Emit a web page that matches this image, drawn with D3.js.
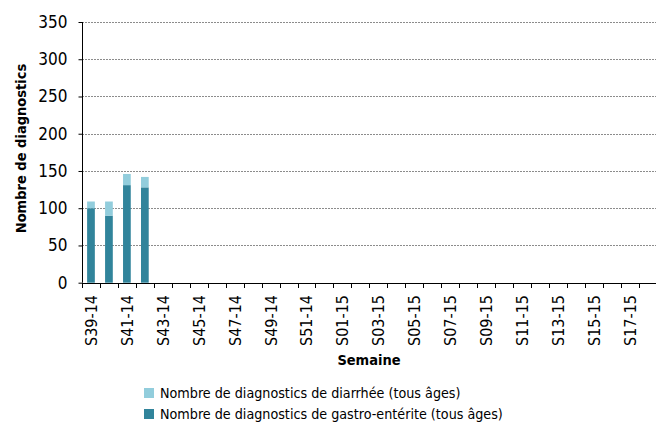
<!DOCTYPE html>
<html>
<head>
<meta charset="utf-8">
<title>Diagnostics par semaine</title>
<style>
body { margin: 0; background: #fff; }
svg text { font-family: "Liberation Sans Narrow", "DejaVu Sans Condensed", sans-serif; fill: #000; }
</style>
</head>
<body>
<script src="https://cdn.jsdelivr.net/npm/d3@7/dist/d3.min.js"></script>
<script>

var weeks = ["S39-14", "S40-14", "S41-14", "S42-14", "S43-14", "S44-14", "S45-14", "S46-14",
             "S47-14", "S48-14", "S49-14", "S50-14", "S51-14", "S52-14",
             "S01-15", "S02-15", "S03-15", "S04-15", "S05-15", "S06-15", "S07-15", "S08-15",
             "S09-15", "S10-15", "S11-15", "S12-15", "S13-15", "S14-15", "S15-15", "S16-15",
             "S17-15", "S18-15"];
// gastro-entérite (dark, bottom) then diarrhée on top; only the first 4 weeks have data
var gastro = [100, 90, 131, 128];
var diarrhee = [9, 19, 15, 14];
var yTicks = [0, 50, 100, 150, 200, 250, 300, 350];
var legendLabels = ["Nombre de diagnostics de diarrhée (tous âges)",
                    "Nombre de diagnostics de gastro-entérite (tous âges)"];
var colors = ["#92CDDC", "#31849B"];

var w = 656, h = 425;
var plotLeft = 82, plotTop = 22, plotBottom = 282.7, plotRight = 656.7;

var svg = d3.select("body").append("svg")
    .attr("width", w)
    .attr("height", h);

var x = d3.scaleBand()
    .domain(weeks)
    .range([plotLeft, plotRight])
    .paddingInner(0.57)
    .paddingOuter(0.285);

var xTickScale = d3.scaleLinear()
    .domain([0, weeks.length])
    .range([plotLeft, plotRight]);

var y = d3.scaleLinear()
    .domain([0, 350])
    .range([plotBottom, plotTop]);

// gridlines
svg.selectAll("line.grid")
    .data(yTicks.slice(1))
    .enter()
    .append("line")
    .attr("class", "grid")
    .attr("x1", plotLeft)
    .attr("x2", w)
    .attr("y1", function(d) { return Math.round(y(d)) + 0.5; })
    .attr("y2", function(d) { return Math.round(y(d)) + 0.5; })
    .attr("stroke", "#8c8c8c")
    .attr("stroke-dasharray", "2,1")
    .attr("stroke-width", 1);

// bars
var rows = gastro.map(function(g, i) {
    return { week: weeks[i], gastro: g, diarrhee: diarrhee[i] };
});

svg.selectAll("rect.g")
    .data(rows)
    .enter()
    .append("rect")
    .attr("class", "g")
    .attr("x", function(d) { return x(d.week); })
    .attr("width", x.bandwidth())
    .attr("y", function(d) { return y(d.gastro); })
    .attr("height", function(d) { return y(0) - y(d.gastro); })
    .attr("fill", colors[1]);

svg.selectAll("rect.d")
    .data(rows)
    .enter()
    .append("rect")
    .attr("class", "d")
    .attr("x", function(d) { return x(d.week); })
    .attr("width", x.bandwidth())
    .attr("y", function(d) { return y(d.gastro + d.diarrhee); })
    .attr("height", function(d) { return y(d.gastro) - y(d.gastro + d.diarrhee); })
    .attr("fill", colors[0]);

// y axis
var yAxis = d3.axisLeft(y)
    .tickValues(yTicks)
    .tickSize(4)
    .tickPadding(11);

var gy = svg.append("g")
    .attr("transform", "translate(" + (plotLeft + 0.5) + ",0)")
    .call(yAxis);
gy.select(".domain").attr("stroke", "#000").attr("d", "M0," + plotBottom + "V" + plotTop);
gy.selectAll("text").attr("font-size", "17px").attr("font-family", null);
gy.selectAll(".tick line").attr("stroke", "#000");

// x axis: ticks at band edges, labels every other week
var xAxisLine = svg.append("g");
xAxisLine.append("line")
    .attr("x1", plotLeft).attr("x2", w)
    .attr("y1", Math.round(plotBottom) + 0.5).attr("y2", Math.round(plotBottom) + 0.5)
    .attr("stroke", "#000");
xAxisLine.selectAll("line.tk")
    .data(d3.range(weeks.length + 1))
    .enter()
    .append("line")
    .attr("class", "tk")
    .attr("x1", function(i) { return Math.round(xTickScale(i)) + 0.5; })
    .attr("x2", function(i) { return Math.round(xTickScale(i)) + 0.5; })
    .attr("y1", Math.round(plotBottom))
    .attr("y2", Math.round(plotBottom) + 5)
    .attr("stroke", "#000");

svg.selectAll("text.xl")
    .data(weeks.filter(function(d, i) { return i % 2 === 0; }))
    .enter()
    .append("text")
    .attr("class", "xl")
    .text(function(d) { return d; })
    .attr("text-anchor", "end")
    .attr("font-size", "16px")
    .attr("transform", function(d) {
        return "translate(" + (x(d) + x.bandwidth() / 2 + 6) + "," + 295 + ") rotate(-90)";
    });

// axis titles
svg.append("text")
    .text("Nombre de diagnostics")
    .attr("text-anchor", "middle")
    .attr("font-weight", "bold")
    .attr("font-size", "14.5px")
    .attr("transform", "translate(26,148.5) rotate(-90)");

svg.append("text")
    .text("Semaine")
    .attr("x", 369)
    .attr("y", 365)
    .attr("text-anchor", "middle")
    .attr("font-weight", "bold")
    .attr("font-size", "14.5px");

// legend
var legend = svg.selectAll("g.leg")
    .data(legendLabels)
    .enter()
    .append("g")
    .attr("class", "leg")
    .attr("transform", function(d, i) { return "translate(144," + (388 + i * 21) + ")"; });

legend.append("rect")
    .attr("width", 10)
    .attr("height", 10)
    .attr("fill", function(d, i) { return colors[i]; });

legend.append("text")
    .text(function(d) { return d; })
    .attr("x", 16)
    .attr("y", 10)
    .attr("font-size", "14.2px");

</script>
</body>
</html>
